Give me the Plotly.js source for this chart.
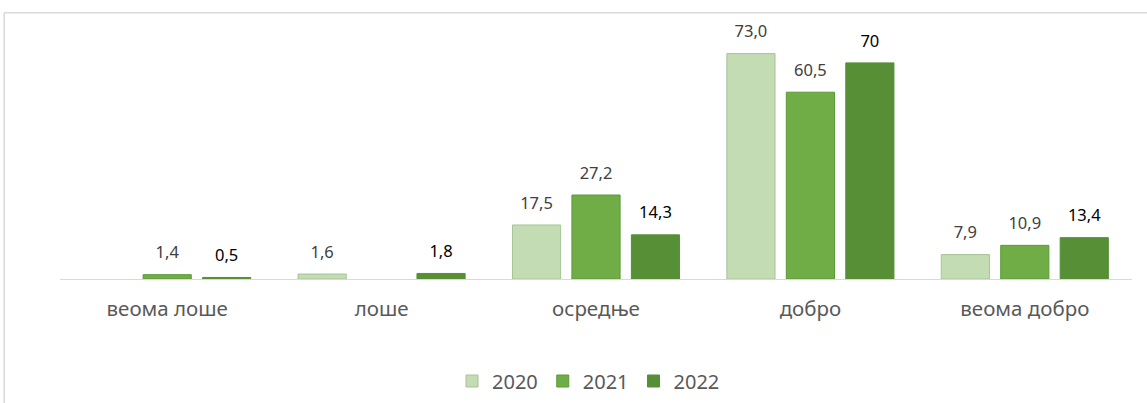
<!DOCTYPE html>
<html>
<head>
<meta charset="utf-8">
<script src="https://cdn.plot.ly/plotly-3.0.1.min.js"></script>
<style>
html,body{margin:0;padding:0;background:#fff;}
#chart{width:1147px;height:403px;}
</style>
</head>
<body>
<div id="chart"></div>
<script>
const categories = ["веома лоше", "лоше", "осредње", "добро", "веома добро"];
const years = ["2020", "2021", "2022"];
const values2020 = [null, 1.6, 17.5, 73.0, 7.9];
const values2021 = [1.4, null, 27.2, 60.5, 10.9];
const values2022 = [0.5, 1.8, 14.3, 70, 13.4];
const labels2020 = ["", "1,6", "17,5", "73,0", "7,9"];
const labels2021 = ["1,4", "", "27,2", "60,5", "10,9"];
const labels2022 = ["0,5", "1,8", "14,3", "70", "13,4"];

const FONT = "Noto Sans, Open Sans, sans-serif";

function barTrace(name, vals, fill, edge) {
  return {
    type: "bar",
    name: name,
    x: categories,
    y: vals,
    hoverinfo: "skip",
    marker: {color: fill, line: {color: edge, width: 1}}
  };
}

function labelTrace(name, vals, labels, labelColor) {
  return {
    type: "scatter",
    mode: "markers+text",
    name: name + " labels",
    showlegend: false,
    x: categories,
    y: vals,
    text: labels,
    textposition: "top center",
    textfont: {family: FONT, size: 16.5, color: labelColor},
    cliponaxis: false,
    hoverinfo: "skip",
    marker: {size: 18, color: "rgba(0,0,0,0)"}
  };
}

const data = [
  barTrace(years[0], values2020, "#c3dcb4", "#a4c496"),
  barTrace(years[1], values2021, "#70ad47", "#5a9a36"),
  barTrace(years[2], values2022, "#578f37", "#578f37"),
  labelTrace(years[0], values2020, labels2020, "#404040"),
  labelTrace(years[1], values2021, labels2021, "#404040"),
  labelTrace(years[2], values2022, labels2022, "#000000")
];

const layout = {
  width: 1147,
  height: 403,
  margin: {l: 60, r: 15, t: 32, b: 124, autoexpand: false},
  paper_bgcolor: "#ffffff",
  plot_bgcolor: "#ffffff",
  barmode: "group",
  scattermode: "group",
  bargap: 0.168,
  scattergap: 0.168,
  bargroupgap: 0.19,
  showlegend: true,
  legend: {
    orientation: "h",
    x: 0.493, xanchor: "center",
    y: -0.413, yanchor: "middle",
    font: {family: FONT, size: 20, color: "#595959"},
    itemwidth: 30,
    traceorder: "normal"
  },
  xaxis: {
    showline: true,
    linecolor: "#d9d9d9",
    linewidth: 1,
    ticks: "",
    showgrid: false,
    zeroline: false,
    tickfont: {family: FONT, size: 20.5, color: "#595959"},
    ticklabelstandoff: 11
  },
  yaxis: {
    range: [0, 80],
    visible: false,
    showgrid: false,
    zeroline: false
  },
  shapes: [
    {type: "line", xref: "paper", yref: "paper", x0: -0.052, x1: 1.02, y0: 1.078, y1: 1.078, line: {color: "#d9d9d9", width: 1.5}},
    {type: "line", xref: "paper", yref: "paper", x0: -0.052, x1: -0.052, y0: 1.078, y1: -0.6, line: {color: "#d9d9d9", width: 1.5}}
  ]
};

Plotly.newPlot("chart", data, layout, {displayModeBar: false, staticPlot: true});
</script>
</body>
</html>
